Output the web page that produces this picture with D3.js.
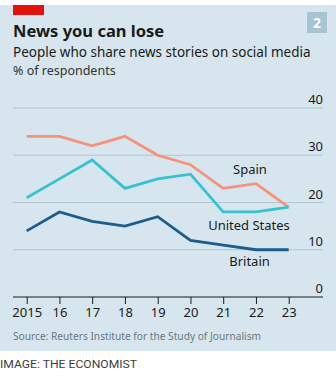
<!DOCTYPE html>
<html>
<head>
<meta charset="utf-8">
<script src="https://cdn.jsdelivr.net/npm/d3@7"></script>
<style>
  body { margin: 0; background: #fff; }
  svg { display: block; }
</style>
</head>
<body>
<svg id="chart" width="336" height="380"></svg>
<script>
let years = [2015, 2016, 2017, 2018, 2019, 2020, 2021, 2022, 2023]
let yearLabels = ['2015', '16', '17', '18', '19', '20', '21', '22', '23']
let spain = [34, 34, 32, 34, 30, 28, 23, 24, 19]
let unitedStates = [21, 25, 29, 23, 25, 26, 18, 18, 19]
let britain = [14, 18, 16, 15, 17, 12, 11, 10, 10]
let yTicks = [0, 10, 20, 30, 40]

let font = '"Noto Sans", sans-serif'
let svg = d3.select('#chart')

// panel background
svg.append('rect')
  .attr('x', 0).attr('y', 5)
  .attr('width', 336).attr('height', 346)
  .attr('fill', '#d7e6ee')

svg.append('rect')
  .attr('x', 13).attr('y', 5)
  .attr('width', 31).attr('height', 10)
  .attr('fill', '#e3120b')

// chart number badge
svg.append('rect')
  .attr('x', 307).attr('y', 12)
  .attr('width', 20).attr('height', 21)
  .attr('fill', '#a6c4d4')
svg.append('text')
  .attr('x', 317).attr('y', 28)
  .attr('text-anchor', 'middle')
  .attr('font-family', font).attr('font-weight', 700)
  .attr('font-size', 14).attr('fill', '#fff')
  .text('2')

svg.append('text')
  .attr('x', 13).attr('y', 37)
  .attr('font-family', font).attr('font-weight', 700)
  .attr('font-size', 16.5).attr('fill', '#1a1a1a')
  .text('News you can lose')

svg.append('text')
  .attr('x', 13).attr('y', 57)
  .attr('font-family', font)
  .attr('font-size', 13.5).attr('fill', '#1a1a1a')
  .text('People who share news stories on social media')

svg.append('text')
  .attr('x', 13).attr('y', 75)
  .attr('font-family', font)
  .attr('font-size', 12.5).attr('fill', '#333')
  .text('% of respondents')

let x = d3.scalePoint()
  .domain(years)
  .range([26.7, 288.7])

let y = d3.scaleLinear()
  .domain([0, 40])
  .range([297, 108])

// gridlines with labels sitting above them on the right
let grid = svg.append('g')
grid.selectAll('line')
  .data(yTicks.filter(d => d > 0))
  .enter()
  .append('line')
  .attr('x1', 13).attr('x2', 323)
  .attr('y1', d => y(d)).attr('y2', d => y(d))
  .attr('stroke', '#b3c5cf').attr('stroke-width', 1)

grid.selectAll('text')
  .data(yTicks)
  .enter()
  .append('text')
  .attr('x', 323)
  .attr('y', d => y(d) - 4)
  .attr('text-anchor', 'end')
  .attr('font-family', font)
  .attr('font-size', 13).attr('fill', '#1a1a1a')
  .text(d => d)

// x axis
let xAxis = d3.axisBottom(x)
  .tickSize(7)
  .tickFormat((d, i) => yearLabels[i])

let axisG = svg.append('g')
  .attr('transform', 'translate(0,' + y(0) + ')')
  .call(xAxis)
axisG.select('.domain').remove()
axisG.selectAll('.tick line').attr('stroke', '#1a1a1a').attr('stroke-width', 1)
axisG.selectAll('.tick text')
  .attr('font-family', font)
  .attr('font-size', 13).attr('fill', '#1a1a1a')
  .attr('dy', 0).attr('y', 20)
axisG.append('line')
  .attr('x1', 13).attr('x2', 323)
  .attr('stroke', '#1a1a1a').attr('stroke-width', 1.2)

let line = d3.line()
  .x((d, i) => x(years[i]))
  .y(d => y(d))

let series = [
  { name: 'Spain', values: spain, color: '#f5937a' },
  { name: 'United States', values: unitedStates, color: '#36c2d1' },
  { name: 'Britain', values: britain, color: '#1a5d8e' }
]

svg.selectAll('path.series')
  .data(series)
  .enter()
  .append('path')
  .attr('class', 'series')
  .attr('d', d => line(d.values))
  .attr('fill', 'none')
  .attr('stroke', d => d.color)
  .attr('stroke-width', 2.8)
  .attr('stroke-linejoin', 'miter')

// series labels
let labels = [
  { text: 'Spain', x: 250, y: 174 },
  { text: 'United States', x: 249, y: 230 },
  { text: 'Britain', x: 249.5, y: 266 }
]
svg.selectAll('text.label')
  .data(labels)
  .enter()
  .append('text')
  .attr('class', 'label')
  .attr('x', d => d.x).attr('y', d => d.y)
  .attr('text-anchor', 'middle')
  .attr('font-family', font)
  .attr('font-size', 13).attr('fill', '#1a1a1a')
  .text(d => d.text)

svg.append('text')
  .attr('x', 13).attr('y', 340)
  .attr('font-family', font)
  .attr('font-size', 11).attr('fill', '#6b7880')
  .attr('textLength', 248).attr('lengthAdjust', 'spacingAndGlyphs')
  .text('Source: Reuters Institute for the Study of Journalism')

svg.append('text')
  .attr('x', 0).attr('y', 368)
  .attr('font-family', 'Roboto, sans-serif')
  .attr('font-size', 11).attr('fill', '#3d3d3d')
  .attr('textLength', 137).attr('lengthAdjust', 'spacingAndGlyphs')
  .text('IMAGE: THE ECONOMIST')
</script>
</body>
</html>
